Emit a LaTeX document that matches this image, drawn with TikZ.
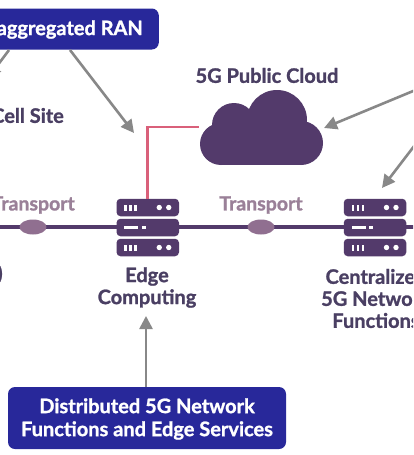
\documentclass[tikz,border=0pt]{standalone}
\usepackage{fontspec}
\setmainfont[BoldFeatures={FakeBold=1.2}]{Lato}
\usetikzlibrary{arrows.meta,calc,shapes.geometric}
\definecolor{boxblue}{HTML}{28289A}
\definecolor{plum}{HTML}{533A6B}
\definecolor{inktext}{HTML}{4A3F63}
\definecolor{transtext}{HTML}{9A8098}
\definecolor{transfill}{HTML}{906F90}
\definecolor{arrowgray}{HTML}{888888}
\definecolor{linkred}{HTML}{D9607A}
\tikzset{
  x=1pt,y=-1pt,
  callout/.style={fill=boxblue,rounded corners=7pt,text=white,font=\bfseries\fontsize{20}{23}\selectfont,align=center,inner sep=0pt},
  label/.style={text=inktext,font=\bfseries\fontsize{20}{22}\selectfont,align=center,inner sep=0pt},
  translabel/.style={text=transtext,font=\bfseries\fontsize{19.5}{22}\selectfont,inner sep=0pt},
  grayarrow/.style={draw=arrowgray,line width=2.6pt,-{Triangle[length=13pt,width=13pt]}},
  transportlink/.style={fill=transfill,draw=none,ellipse,minimum width=27pt,minimum height=15pt,inner sep=0pt},
  rack/.style={fill=plum,rounded corners=4pt,minimum width=62.5pt,minimum height=17.5pt,inner sep=0pt},
  trunk/.style={draw=plum,line width=4.5pt},
}
\newcommand{\rackdots}[1]{%
  \fill[white] ($(#1)+(-23.5,-3)$) rectangle ++(2.5,6);
  \fill[white] ($(#1)+(-18.5,-3)$) rectangle ++(2.5,6);
  \fill[white] ($(#1)+(-13.5,-3)$) rectangle ++(2.5,6);
  \fill[white] ($(#1)+(11.5,0)$) circle (2.7pt);
  \fill[white] ($(#1)+(21,0)$) circle (2.7pt);
}
\newcommand{\rackbars}[1]{%
  \fill[white] ($(#1)+(-23.5,-1.5)$) rectangle ++(14,3);
  \fill[white] ($(#1)+(-6,-1.5)$) rectangle ++(4,3);
}
\begin{document}
\begin{tikzpicture}
\useasboundingbox (0,0) rectangle (413,455);
\clip (0,0) rectangle (413,455);
\fill[white] (0,0) rectangle (413,455);
% trunk
\coordinate (trunkL) at (-5,227);
\coordinate (trunkR) at (418,227);
\draw[trunk] (trunkL) -- (trunkR);
\node[transportlink] (linkA) at (33,227) {};
\node[transportlink] (linkB) at (261,227) {};
\node[translabel,anchor=east] (transA) at (75,205) {Transport};
\node[translabel] (transB) at (261,205) {Transport};
% edge server
\node[rack] (edgeT) at (147.75,207.5) {};
\node[rack] (edgeM) at (147.75,227.5) {};
\node[rack] (edgeB) at (147.75,247.5) {};
\rackdots{edgeT}\rackbars{edgeM}\rackdots{edgeB}
% central server
\node[rack] (coreT) at (375,207.5) {};
\node[rack] (coreM) at (375,227.5) {};
\node[rack] (coreB) at (375,247.5) {};
\rackdots{coreT}\rackbars{coreM}\rackdots{coreB}
% cloud
\fill[plum] (221,144) circle (21pt) (234,125) circle (22pt) (277,120) circle (30pt) (301,143) circle (22pt);
\fill[plum] (221,125) rectangle (301,165);
\coordinate (cloudW) at (199,127);
\node[label] (cloudlab) at (267,75.5) {5G Public Cloud};
% red link
\draw[draw=linkred,line width=2.8pt] (edgeT.north) |- (cloudW);
% boxes
\node[callout,minimum height=41pt,minimum width=214pt,anchor=east] (ran) at (159,29) {};
\node[anchor=east,inner sep=0pt,text=white,font=\bfseries\fontsize{20}{23}\selectfont] (rantext) at (143,29.5) {Disaggregated RAN};
\node[callout,minimum width=278pt,minimum height=62pt] (dist) at (147,418) {};
\node[anchor=center,align=center,inner sep=0pt,text=white,font=\bfseries\fontsize{20}{23}\selectfont] (disttext) at (147,419) {Distributed 5G Network\\Functions and Edge Services};
% labels
\node[label,anchor=east] (cell) at (64,115.5) {Cell Site};
\node[label,anchor=west] (paren) at (-3,274) {)};
\node[label] (edgelab) at (147,287.5) {Edge\\Computing};
\node[label] (corelab) at (376,298.5) {Centralized\\5G Network\\Functions};
% arrows
\coordinate (a1s) at (70,50); \coordinate (a1e) at (134,133);
\coordinate (a0s) at (9,50); \coordinate (a0e) at (-12,78);
\coordinate (a2s) at (418,89); \coordinate (a2e) at (324,128);
\coordinate (a3s) at (418,141); \coordinate (a3e) at (382,188);
\coordinate (a4e) at (146,316);
\draw[grayarrow] (a1s) -- (a1e);
\draw[grayarrow] (a0s) -- (a0e);
\draw[grayarrow] (a2s) -- (a2e);
\draw[grayarrow] (a3s) -- (a3e);
\draw[grayarrow] (dist.north -| a4e) -- (a4e);
\end{tikzpicture}
\end{document}
